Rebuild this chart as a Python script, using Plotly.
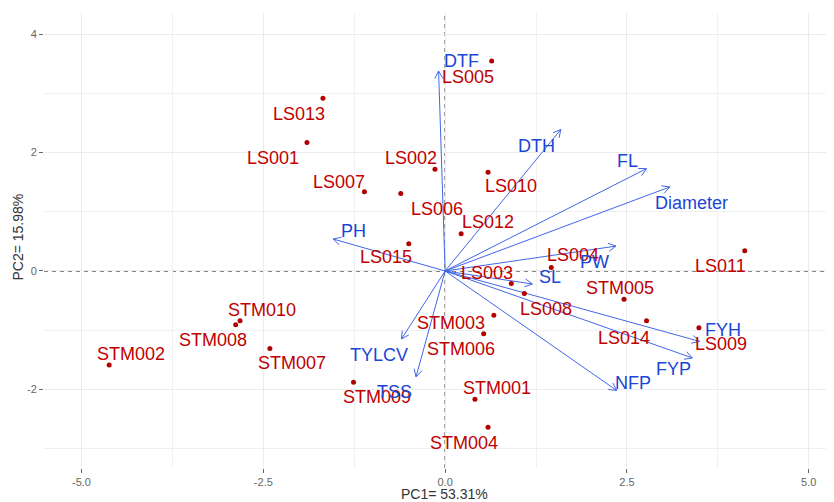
import math
import plotly.graph_objects as go

# ---- data ----
samples = ["LS001", "LS002", "LS003", "LS004", "LS005", "LS006", "LS007", "LS008",
           "LS009", "LS010", "LS011", "LS012", "LS013", "LS014", "LS015",
           "STM001", "STM002", "STM003", "STM004", "STM005", "STM006", "STM007",
           "STM008", "STM009", "STM010"]
pc1 = [-1.90, -0.14, 0.91, 1.46, 0.64, -0.61, -1.11, 1.09,
       3.49, 0.59, 4.12, 0.22, -1.68, 2.77, -0.50,
       0.41, -4.62, 0.67, 0.59, 2.46, 0.53, -2.41,
       -2.88, -1.26, -2.82]
pc2 = [2.17, 1.72, -0.21, 0.06, 3.55, 1.31, 1.34, -0.38,
       -0.96, 1.67, 0.34, 0.63, 2.92, -0.84, 0.46,
       -2.17, -1.59, -0.75, -2.64, -0.48, -1.06, -1.31,
       -0.91, -1.88, -0.84]

variables = ["DTF", "DTH", "FL", "Diameter", "PW", "SL", "FYH", "FYP", "NFP",
             "TYLCV", "TSS", "PH"]
load1 = [-0.09, 1.59, 2.77, 3.09, 2.35, 1.20, 3.50, 3.40, 2.36, -0.60, -0.40, -1.54]
load2 = [3.38, 2.39, 1.73, 1.42, 0.42, -0.22, -1.19, -1.47, -2.02, -1.15, -1.79, 0.54]

x_ticks = [-5.0, -2.5, 0.0, 2.5, 5.0]
y_ticks = [-2, 0, 2, 4]
x_title = "PC1= 53.31%"
y_title = "PC2= 15.98%"

# ---- label nudges (pixels, right / down) ----
sample_nudge = {
    "LS001": (-34, 14), "LS002": (-24, -12), "LS003": (-24, -11), "LS004": (22, -13),
    "LS005": (-24, 15), "LS006": (36, 15), "LS007": (-25, -11), "LS008": (22, 15),
    "LS009": (22, 15), "LS010": (23, 13), "LS011": (-24, 14), "LS012": (27, -13),
    "LS013": (-24, 15), "LS014": (-23, 16), "LS015": (-23, 12),
    "STM001": (22, -12), "STM002": (22, -12), "STM003": (-43, 7), "STM004": (-24, 15),
    "STM005": (-4, -12), "STM006": (-23, 14), "STM007": (22, 14), "STM008": (-23, 14),
    "STM009": (23, 14), "STM010": (22, -12),
}
var_nudge = {
    "DTF": (23, -11), "DTH": (-24, 15), "FL": (-19, -9), "Diameter": (22, 15),
    "PW": (-22, 15), "SL": (18, -8), "FYH": (23, -12), "FYP": (-19, 10),
    "NFP": (16, -8), "TYLCV": (-22, 15), "TSS": (-22, 14), "PH": (20, -9),
}

# the page body has an 8px margin, so the figure is drawn 8px in from the top-left
W, H = 826, 494
ML, MR, MT, MB = 36, 2, 5, 34
xr = [-5.516, 5.32]
yr = [-3.33, 4.36]
pw, ph = W - ML - MR, H - MT - MB
sx = pw / (xr[1] - xr[0])
sy = ph / (yr[1] - yr[0])

RED_PT = "#B00000"
RED_TX = "#C00000"
BLUE_TX = "#1A45D6"
BLUE_LN = "#4166E8"
FONT = "Liberation Sans, Arial, sans-serif"

fig = go.Figure()

# arrows (shafts and open heads)
ax_, ay_ = [], []
hl, ang = 8.5, math.radians(28)
for tx, ty in zip(load1, load2):
    ax_ += [0, tx, None]
    ay_ += [0, ty, None]
    dx, dy = tx * sx, ty * sy
    n = math.hypot(dx, dy)
    bx, by = -dx / n, -dy / n
    for a in (ang, -ang):
        rx = bx * math.cos(a) - by * math.sin(a)
        ry = bx * math.sin(a) + by * math.cos(a)
        ax_ += [tx, tx + hl * rx / sx, None]
        ay_ += [ty, ty + hl * ry / sy, None]
fig.add_trace(go.Scatter(x=ax_, y=ay_, mode="lines",
                         line=dict(color=BLUE_LN, width=1), hoverinfo="skip"))

# points
fig.add_trace(go.Scatter(x=pc1, y=pc2, mode="markers",
                         marker=dict(color=RED_PT, size=5), text=samples))

CAP_ADJ = 1  # text box centre vs cap centre
for s, x, y in zip(samples, pc1, pc2):
    dx, dy = sample_nudge[s]
    fig.add_annotation(x=x, y=y, text=s, showarrow=False, xshift=dx, yshift=-dy - CAP_ADJ,
                       font=dict(family=FONT, size=18, color=RED_TX))
for v, x, y in zip(variables, load1, load2):
    dx, dy = var_nudge[v]
    fig.add_annotation(x=x, y=y, text=v, showarrow=False, xshift=dx, yshift=-dy - CAP_ADJ,
                       font=dict(family=FONT, size=18, color=BLUE_TX))

# reference lines
fig.add_shape(type="line", xref="paper", x0=0, x1=1, yref="y", y0=0, y1=0,
              line=dict(color="black", width=1, dash="4px,4px"), layer="below")
fig.add_shape(type="line", yref="paper", y0=0, y1=1, xref="x", x0=0, x1=0,
              line=dict(color="black", width=1, dash="4px,4px"), layer="below")

# axis titles
fig.add_annotation(xref="paper", yref="paper", x=0.5, y=0, xshift=6, yshift=-26,
                   text=x_title, showarrow=False, yanchor="middle",
                   font=dict(family=FONT, size=14, color="#333333"))
fig.add_annotation(xref="paper", yref="paper", x=0, y=0.5, xshift=-27, yshift=3,
                   text=y_title, showarrow=False, textangle=-90, xanchor="center",
                   font=dict(family=FONT, size=14, color="#333333"))

axis_common = dict(showline=False, zeroline=False, ticks="outside", ticklen=4,
                   tickcolor="#666666", tickwidth=1, gridcolor="#EBEBEB", gridwidth=1,
                   automargin=False,
                   tickfont=dict(family=FONT, size=11, color="#666666"))
fig.update_xaxes(range=xr, tickvals=x_ticks, ticktext=[f"{t:.1f}" for t in x_ticks],
                 minor=dict(dtick=1.25, tick0=0, showgrid=True, gridcolor="#F0F0F0", ticks=""),
                 **axis_common)
fig.update_yaxes(range=yr, tickvals=y_ticks, ticktext=[str(t) for t in y_ticks],
                 minor=dict(dtick=1, tick0=0, showgrid=True, gridcolor="#F0F0F0", ticks=""),
                 **axis_common)

fig.update_layout(width=W, height=H, margin=dict(l=ML, r=MR, t=MT, b=MB),
                  plot_bgcolor="white", paper_bgcolor="white", showlegend=False)

fig.write_html("out.html")
